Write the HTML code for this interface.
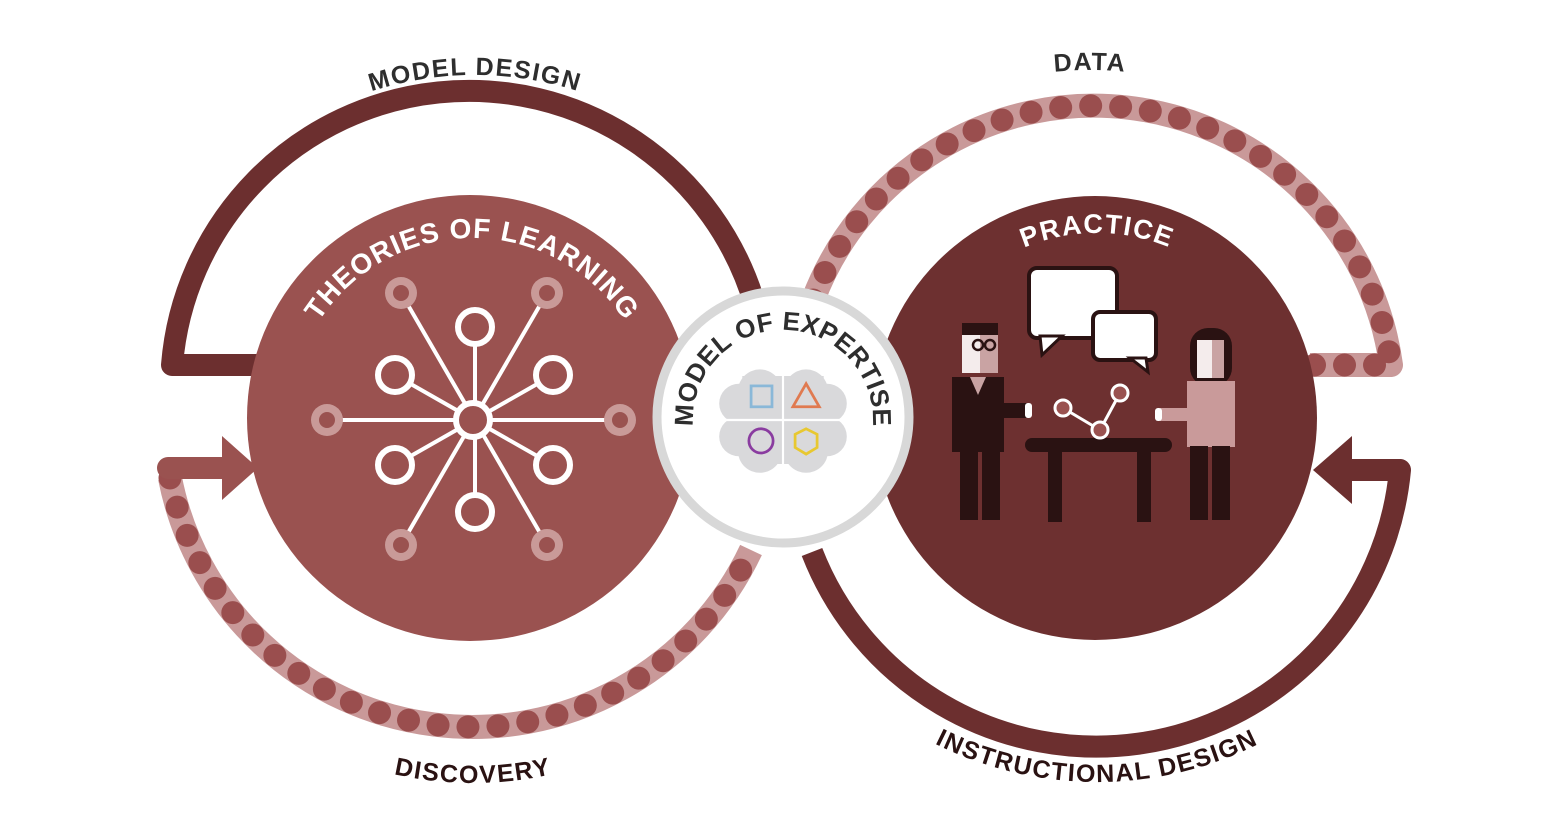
<!DOCTYPE html>
<html><head><meta charset="utf-8"><style>
html,body{margin:0;padding:0;background:#fff;}
svg{display:block;}
text{font-family:"Liberation Sans",sans-serif;font-weight:bold;}
</style></head><body>
<svg width="1562" height="830" viewBox="0 0 1562 830" xmlns="http://www.w3.org/2000/svg">
<defs>
<path id="pMD" d="M 140 410 A 335 335 0 0 1 810 410"/>
<path id="pDATA" d="M 750 410 A 340 340 0 0 1 1430 410"/>
<path id="pDISC" d="M 115 425 A 358 358 0 0 0 831 425"/>
<path id="pID" d="M 735 420 A 362 362 0 0 0 1459 420"/>
<path id="pTOL" d="M 290 420 A 182 182 0 0 1 654 420"/>
<path id="pPR" d="M 910 420 A 187 187 0 0 1 1284 420"/>
<path id="pMOE" d="M 696 443 A 90 90 0 1 1 870 443"/>
</defs>

<path d="M 170 478 A 308 308 0 0 0 751 550" fill="none" stroke="#c99999" stroke-width="24"/>
<path d="M 170 478 A 308 308 0 0 0 751 550" fill="none" stroke="#9a4e4e" stroke-width="23" stroke-linecap="round" stroke-dasharray="0 30"/>
<path d="M 813 300 A 300 300 0 0 1 1391 365 L 1310 365" fill="none" stroke="#c99999" stroke-width="24" stroke-linejoin="round"/>
<path d="M 813 300 A 300 300 0 0 1 1391 365 L 1310 365" fill="none" stroke="#9a4e4e" stroke-width="23" stroke-linecap="round" stroke-dasharray="0 30"/>

<path d="M 260 365 L 172 365 A 298 298 0 0 1 755 305" fill="none" stroke="#6c2f2f" stroke-width="22" stroke-linejoin="round"/>
<path d="M 812 552 A 305 305 0 0 0 1400 470 L 1340 470" fill="none" stroke="#6c2f2f" stroke-width="22" stroke-linejoin="round"/>
<polygon points="1313,470 1352,436 1352,504" fill="#6c2f2f"/>
<path d="M 168 468 L 232 468" stroke="#9a5250" stroke-width="22" stroke-linecap="round"/>
<polygon points="258,468 222,436 222,500" fill="#9a5250"/>

<circle cx="470" cy="418" r="223" fill="#9a5250"/>
<g stroke="#fff" stroke-width="4" fill="none">
<line x1="401" y1="293" x2="547" y2="545"/><line x1="547" y1="293" x2="401" y2="545"/>
<line x1="327" y1="420" x2="620" y2="420"/>
<line x1="475" y1="327" x2="475" y2="512"/>
<line x1="395" y1="375" x2="553" y2="465"/><line x1="553" y1="375" x2="395" y2="465"/>
</g>
<g fill="#c99a98">
<circle cx="401" cy="293" r="16"/><circle cx="547" cy="293" r="16"/><circle cx="327" cy="420" r="16"/><circle cx="620" cy="420" r="16"/><circle cx="401" cy="545" r="16"/><circle cx="547" cy="545" r="16"/>
</g>
<g fill="#9a5250" stroke="#c99a98" stroke-width="4">
<circle cx="401" cy="293" r="10"/><circle cx="547" cy="293" r="10"/><circle cx="327" cy="420" r="10"/><circle cx="620" cy="420" r="10"/><circle cx="401" cy="545" r="10"/><circle cx="547" cy="545" r="10"/>
</g>
<g fill="#9a5250" stroke="#fff" stroke-width="6">
<circle cx="475" cy="327" r="17"/><circle cx="395" cy="375" r="17"/><circle cx="553" cy="375" r="17"/><circle cx="395" cy="465" r="17"/><circle cx="553" cy="465" r="17"/><circle cx="475" cy="512" r="17"/><circle cx="473" cy="420" r="17"/>
</g>
<text font-size="28" fill="#fff" letter-spacing="1"><textPath href="#pTOL" startOffset="50%" text-anchor="middle">THEORIES OF LEARNING</textPath></text>

<circle cx="1095" cy="418" r="222" fill="#6d3030"/>
<text font-size="27" fill="#fff" letter-spacing="1.5"><textPath href="#pPR" startOffset="50%" text-anchor="middle">PRACTICE</textPath></text>
<rect x="1029" y="268" width="88" height="70" rx="8" fill="#fff" stroke="#2a1212" stroke-width="4"/>
<polygon points="1040,336 1042,355 1062,336" fill="#fff" stroke="#2a1212" stroke-width="3"/>
<rect x="1093" y="312" width="63" height="48" rx="7" fill="#fff" stroke="#2a1212" stroke-width="4"/>
<polygon points="1130,358 1148,372 1146,358" fill="#fff" stroke="#2a1212" stroke-width="3"/>
<rect x="962" y="323" width="36" height="50" fill="#f4ecec"/>
<rect x="980" y="335" width="18" height="38" fill="#c9a3a3"/>
<rect x="962" y="323" width="36" height="12" fill="#2a1212"/>
<circle cx="978" cy="345" r="5" fill="none" stroke="#2a1212" stroke-width="2.5"/><circle cx="990" cy="345" r="5" fill="none" stroke="#2a1212" stroke-width="2.5"/>
<rect x="952" y="377" width="52" height="75" fill="#2a1212"/>
<polygon points="970,377 986,377 978,395" fill="#c9a3a3"/>
<rect x="995" y="403" width="32" height="15" fill="#2a1212"/>
<rect x="1025" y="403" width="7" height="15" rx="3" fill="#fff"/>
<rect x="960" y="450" width="18" height="70" fill="#2a1212"/><rect x="982" y="450" width="18" height="70" fill="#2a1212"/>
<rect x="1025" y="438" width="147" height="14" rx="7" fill="#2a1212"/>
<rect x="1048" y="448" width="14" height="74" fill="#2a1212"/><rect x="1137" y="448" width="14" height="74" fill="#2a1212"/>
<g stroke="#fff" stroke-width="3"><line x1="1063" y1="408" x2="1100" y2="430"/><line x1="1100" y1="430" x2="1120" y2="393"/></g>
<g fill="#9a5250" stroke="#fff" stroke-width="3"><circle cx="1063" cy="408" r="8"/><circle cx="1100" cy="430" r="8"/><circle cx="1120" cy="393" r="8"/></g>
<rect x="1190" y="328" width="42" height="58" rx="18" fill="#2a1212"/>
<rect x="1197" y="340" width="27" height="38" fill="#f4ecec"/>
<rect x="1212" y="340" width="12" height="38" fill="#c9a3a3"/>
<rect x="1187" y="381" width="48" height="66" fill="#c99a9a"/>
<rect x="1160" y="408" width="30" height="13" fill="#c99a9a"/>
<rect x="1155" y="408" width="7" height="13" rx="3" fill="#fff"/>
<rect x="1190" y="446" width="18" height="74" fill="#2a1212"/><rect x="1212" y="446" width="18" height="74" fill="#2a1212"/>

<circle cx="783" cy="417" r="126" fill="#fff" stroke="#d8d8d8" stroke-width="9"/>
<g transform="translate(783,420) scale(1.1) translate(-783,-418)">
<g fill="#d9d9db">
<circle cx="762" cy="392" r="20"/><circle cx="743" cy="403" r="18"/><circle cx="804" cy="392" r="20"/><circle cx="823" cy="403" r="18"/>
<circle cx="762" cy="446" r="20"/><circle cx="743" cy="433" r="18"/><circle cx="804" cy="446" r="20"/><circle cx="823" cy="433" r="18"/>
<rect x="737" y="393" width="92" height="50"/><rect x="746" y="378" width="74" height="80"/>
</g>
<line x1="783" y1="372" x2="783" y2="470" stroke="#fff" stroke-width="2"/>
<line x1="720" y1="418" x2="846" y2="418" stroke="#fff" stroke-width="2"/>
<rect x="754" y="387" width="19" height="19" fill="none" stroke="#8ab8d8" stroke-width="2.5"/>
<polygon points="804,385 816,406 792,406" fill="none" stroke="#e07a50" stroke-width="2.5"/>
<circle cx="763" cy="437" r="11" fill="none" stroke="#8a3ca0" stroke-width="2.5"/>
<polygon points="804,426 814,431 814,443 804,449 794,443 794,431" fill="none" stroke="#e8c830" stroke-width="2.5"/>
</g>
<text font-size="26" fill="#2e2e2e" letter-spacing="0.3"><textPath href="#pMOE" startOffset="50%" text-anchor="middle">MODEL OF EXPERTISE</textPath></text>

<text font-size="25" fill="#2e2e2e" letter-spacing="1.5"><textPath href="#pMD" startOffset="50%" text-anchor="middle">MODEL DESIGN</textPath></text>
<text font-size="25" fill="#2e2e2e" letter-spacing="1.5"><textPath href="#pDATA" startOffset="50%" text-anchor="middle">DATA</textPath></text>
<text font-size="25" fill="#2a1212" letter-spacing="1.5"><textPath href="#pDISC" startOffset="50%" text-anchor="middle">DISCOVERY</textPath></text>
<text font-size="25" fill="#2a1212" letter-spacing="1.5"><textPath href="#pID" startOffset="50%" text-anchor="middle">INSTRUCTIONAL DESIGN</textPath></text>
</svg>
</body></html>
